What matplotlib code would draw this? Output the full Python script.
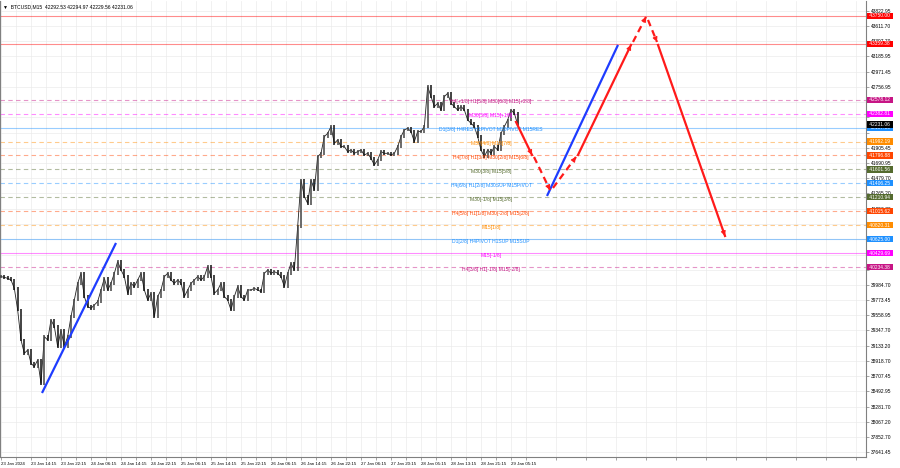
import matplotlib
matplotlib.use('Agg')
import matplotlib.pyplot as plt
import matplotlib.transforms as mtransforms

# hourly-ish closes (BTCUSD M15 view)
closes = [40101, 40091, 40077, 40054, 39937, 39634, 39214, 39027, 39074, 38887,
          38841, 38934, 38607, 39261, 39214, 39494, 39401, 39121, 39354, 39121,
          39261, 39541, 39774, 40007, 40147, 39821, 39681, 39657, 39704, 39751,
          39914, 40077, 39914, 40007, 40147, 40311, 40194, 40101, 39867, 40007,
          39961, 40054, 40147, 39914, 39774, 39867, 39541, 39821, 39914, 40101,
          40147, 40054, 40007, 40054, 40007, 39821, 39914, 40007, 40054, 40101,
          40054, 40101, 40241, 40101, 39867, 39914, 40007, 39821, 39774, 39634,
          39821, 39961, 39821, 39774, 39914, 39914, 39937, 39914, 39891, 40147,
          40194, 40147, 40171, 40147, 40101, 39961, 40147, 40287, 40194,
          40801, 41454, 41221, 41127, 41454, 41314, 41781, 41827, 42061, 42107,
          42201, 41967, 42014, 41921, 41921, 41851, 41874, 41827, 41851, 41874,
          41804, 41827, 41757, 41664, 41734, 41851, 41827, 41827, 41804, 41827,
          41921, 42061, 42154, 42177, 42131, 41991, 42131, 42131, 42201, 42761,
          42621, 42481, 42527, 42434, 42621, 42667, 42527, 42481, 42434, 42481,
          42434, 42294, 42247, 42201, 42061, 41874, 41781, 41874, 41827, 41921,
          41874, 42107, 42201, 42294, 42434, 42387, 42231.06]

time_labels = ['23 Jan 2024', '23 Jan 14:15', '23 Jan 22:15', '24 Jan 06:15', '24 Jan 14:15',
               '24 Jan 22:15', '25 Jan 06:15', '25 Jan 14:15', '25 Jan 22:15', '26 Jan 06:15',
               '26 Jan 14:15', '26 Jan 22:15', '27 Jan 06:15', '27 Jan 20:15', '28 Jan 05:15',
               '28 Jan 13:15', '28 Jan 21:15', '29 Jan 05:15']

price_ticks = [43822.95, 43611.70, 43397.70, 43185.95, 42971.45, 42756.95, 42542.45,
               42331.20, 42116.70, 41905.45, 41690.95, 41479.70, 41265.20, 41050.70,
               40836.20, 40621.70, 40410.45, 40195.95, 39984.70, 39773.45, 39558.95,
               39347.70, 39133.20, 38918.70, 38707.45, 38492.95, 38281.70, 38067.20,
               37852.70, 37641.45]
# tick labels hidden behind the level boxes in the terminal
hidden_ticks = [42542.45, 42331.20, 42116.70, 40836.20, 40621.70, 40410.45, 40195.95]

levels = [43750.00, 43359.38, 42578.12, 42382.81, 42187.50, 41992.19, 41796.88, 41601.56,
          41406.25, 41210.94, 41015.62, 40820.31, 40625.00, 40429.69, 40234.38]
level_colors = ['#ff0000', '#ff0000', '#c71585', '#ff00ff', '#1e90ff', '#ff8c00', '#ff4500',
                '#556b2f', '#1e90ff', '#556b2f', '#ff4500', '#ff8c00', '#1e90ff', '#ff00ff',
                '#c71585']
level_styles = ['-', '-', '--', '--', '-', '--', '--', '--', '--', '--', '--', '--', '-', '-', '--']
level_texts = ['', '',
               'H4[+1/8] H1[5/8] M30[6/8] M15[+2/8]',
               'M30[5/8] M15[+1/8]',
               'D1[3/8] H4RES H1PIVOT M30PIVOT M15RES',
               'M30[4/8] M15[7/8]',
               'H4[7/8] H1[3/8] M30[2/8] M15[6/8]',
               'M30[3/8] M15[5/8]',
               'H4[6/8] H1[2/8] M30SUP M15PIVOT',
               'M30[-1/8] M15[3/8]',
               'H4[5/8] H1[1/8] M30[-2/8] M15[2/8]',
               'M15[1/8]',
               'D1[2/8] H4PIVOT H1SUP M15SUP',
               'M15[-1/8]',
               'H4[3/8] H1[-1/8] M15[-2/8]']

# trend lines (blue) and forecast path (red)
blue_x = [[12.3, 34.5], [163.8, 185.1]]
blue_y = [[38472, 40572], [41230, 43344]]
path_x = [[154.5, 159.3], [159.9, 164.7], [165.6, 172.5], [173.1, 189.0],
          [189.6, 193.5], [194.1, 196.8], [197.1, 217.2]]
path_y = [[42266, 41804], [41776, 41314], [41342, 41776], [41804, 43344],
          [43386, 43736], [43694, 43386], [43344, 40670]]
path_style = ['-', '--', '--', '-', '--', '--', '-']

plt.rcParams['font.family'] = ['Liberation Sans', 'DejaVu Sans']
fig = plt.figure(figsize=(9, 4.68), dpi=100)
ax = fig.add_axes([0.0, 1 - 457 / 468, 866 / 900, 457 / 468 - 0.002])

# bars
xs = list(range(len(closes)))
opens = [closes[0]] + closes[:-1]
for x, o, c in zip(xs, opens, closes):
    lo, hi = min(o, c) - 20, max(o, c) + 20
    col = '#444444' if c >= o else '#111111'
    ax.vlines(x, lo, hi, color=col, lw=1.1, zorder=4)
ax.plot(xs, closes, color='#222222', lw=0.6, zorder=3)

# levels
ymark = mtransforms.blended_transform_factory(ax.transAxes, ax.transData)
for p, col, ls, txt in zip(levels, level_colors, level_styles, level_texts):
    ax.axhline(p, color=col, ls=ls, lw=0.8, alpha=0.45,
               dashes=(4, 3) if ls == '--' else (None, None), zorder=2)
    if txt:
        ax.annotate(txt, (147, p), xytext=(0, -1.5), textcoords='offset points',
                    ha='center', va='center', fontsize=3.6, color=col, zorder=6)
    ax.text(1.002, p, f' {p:.2f}  ', transform=ymark, fontsize=3.5, color='white',
            va='center', ha='left', clip_on=False, zorder=10,
            bbox=dict(boxstyle='square,pad=0.12', fc=col, ec='none'))
ax.text(1.002, closes[-1], f' {closes[-1]:.2f}  ', transform=ymark, fontsize=3.5,
        color='white', va='center', ha='left', clip_on=False, zorder=11,
        bbox=dict(boxstyle='square,pad=0.12', fc='black', ec='none'))

for bx, by in zip(blue_x, blue_y):
    ax.plot(bx, by, color='#1e3cff', lw=1.6, zorder=7, solid_capstyle='butt')

for px, py, ls in zip(path_x, path_y, path_style):
    ax.plot(px, py, color='#ff1a1a', lw=1.6, ls=ls,
            dashes=(3, 2) if ls == '--' else (None, None), zorder=7)
    dx, dy = px[1] - px[0], py[1] - py[0]
    ax.annotate('', xy=(px[1], py[1]), xytext=(px[1] - dx * 0.02, py[1] - dy * 0.02),
                arrowprops=dict(arrowstyle='-|>', color='#ff1a1a', lw=0.8,
                                mutation_scale=7, shrinkA=0, shrinkB=0), zorder=8)

ax.set_xlim(-0.3, 259.5)
ax.set_ylim(37576, 43960)

ax.set_xticks([9 * i for i in range(len(time_labels))])
ax.set_xticklabels(time_labels, fontsize=3.2, ha='left')
ax.set_xticks([9 * i + 4.5 for i in range(29)], minor=True)
ax.yaxis.tick_right()
ax.set_yticks(price_ticks)
ax.set_yticklabels(['' if v in hidden_ticks else f'{v:.2f}' for v in price_ticks], fontsize=3.5)
ax.tick_params(axis='both', which='both', length=2, width=0.5, color='#808080', pad=1.5)
ax.grid(True, which='both', color='#ebebeb', lw=0.5, zorder=0)
ax.set_axisbelow(True)
for s in ax.spines.values():
    s.set_color('#808080')
    s.set_linewidth(0.8)
ax.spines['top'].set_visible(False)

ax.text(0.004, 0.993, '\u25bc  BTCUSD,M15  42292.53 42294.97 42229.56 42231.06',
        transform=ax.transAxes, fontsize=3.6, va='top', ha='left', zorder=12)

fig.savefig('out.png', dpi=100)
